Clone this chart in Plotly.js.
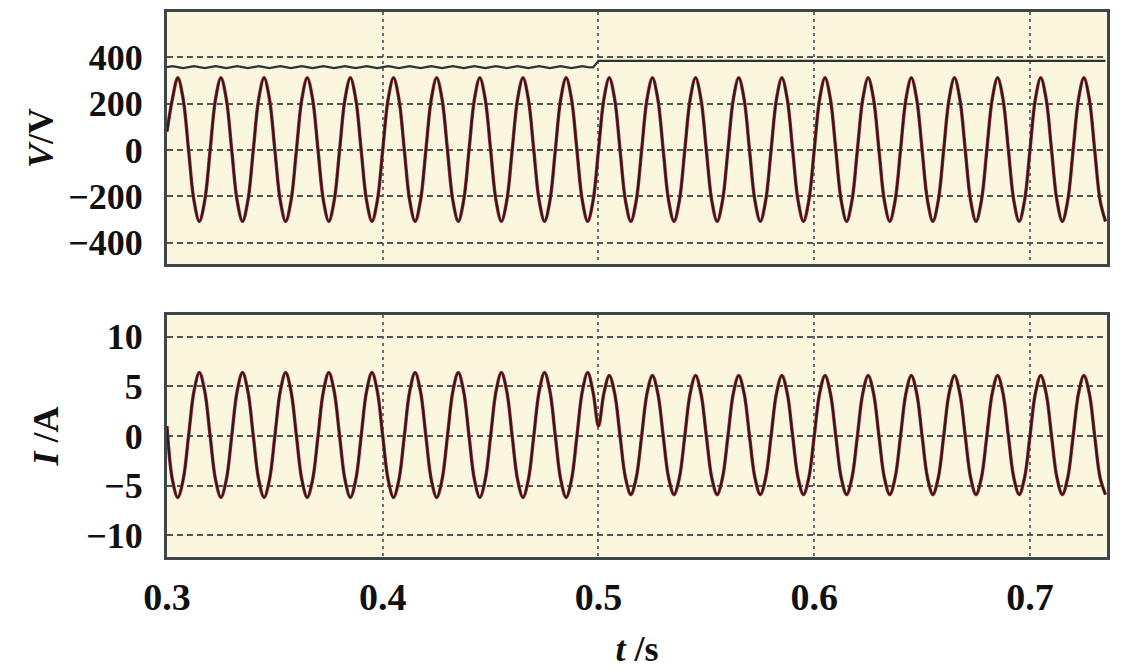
<!DOCTYPE html>
<html>
<head>
<meta charset="utf-8">
<script src="https://cdn.plot.ly/plotly-3.0.1.min.js"></script>
<style>html,body{margin:0;padding:0;background:#fff;}#chart{width:1123px;height:670px;}</style>
</head>
<body>
<div id="chart"></div>
<script>
// Sampling grid of the recorded waveforms (s)
const tStart = 0.3;
const tStep = 0.0025;

// Grid voltage (V), one row per 20 ms cycle
const gridVoltage = [
  80, 220, 312, 220, 0, -218, -308, -218,
  0, 220, 312, 220, 0, -218, -308, -218,
  0, 220, 312, 220, 0, -218, -308, -218,
  0, 220, 312, 220, 0, -218, -308, -218,
  0, 220, 312, 220, 0, -218, -308, -218,
  0, 220, 312, 220, 0, -218, -308, -218,
  0, 220, 312, 220, 0, -218, -308, -218,
  0, 220, 312, 220, 0, -218, -308, -218,
  0, 220, 312, 220, 0, -218, -308, -218,
  0, 220, 312, 220, 0, -218, -308, -218,
  0, 220, 312, 220, 0, -218, -308, -218,
  0, 220, 312, 220, 0, -218, -308, -218,
  0, 220, 312, 220, 0, -218, -308, -218,
  0, 220, 312, 220, 0, -218, -308, -218,
  0, 220, 312, 220, 0, -218, -308, -218,
  0, 220, 312, 220, 0, -218, -308, -218,
  0, 220, 312, 220, 0, -218, -308, -218,
  0, 220, 312, 220, 0, -218, -308, -218,
  0, 220, 312, 220, 0, -218, -308, -218,
  0, 220, 312, 220, 0, -218, -308, -218,
  0, 220, 312, 220, 0, -218, -308, -218,
  0, 220, 312, 220, 0, -218, -308
];

// DC-link voltage (V)
const dcVoltage = [
  358, 362, 358, 354, 358, 362, 358, 354,
  358, 362, 358, 354, 358, 362, 358, 354,
  358, 362, 358, 354, 358, 362, 358, 354,
  358, 362, 358, 354, 358, 362, 358, 354,
  358, 362, 358, 354, 358, 362, 358, 354,
  358, 362, 358, 354, 358, 362, 358, 354,
  358, 362, 358, 354, 358, 362, 358, 354,
  358, 362, 358, 354, 358, 362, 358, 354,
  358, 362, 358, 354, 358, 362, 358, 354,
  358, 362, 358, 354, 358, 362, 358, 357,
  385, 385, 385, 385, 385, 385, 385, 385,
  385, 385, 385, 385, 385, 385, 385, 385,
  385, 385, 385, 385, 385, 385, 385, 385,
  385, 385, 385, 385, 385, 385, 385, 385,
  385, 385, 385, 385, 385, 385, 385, 385,
  385, 385, 385, 385, 385, 385, 385, 385,
  385, 385, 385, 385, 385, 385, 385, 385,
  385, 385, 385, 385, 385, 385, 385, 385,
  385, 385, 385, 385, 385, 385, 385, 385,
  385, 385, 385, 385, 385, 385, 385, 385,
  385, 385, 385, 385, 385, 385, 385, 385,
  385, 385, 385, 385, 385, 385, 385
];

// Grid current (A): anti-phase before 0.5 s, in phase after
const gridCurrent = [
  1.0, -4.4, -6.2, -4.4, 0, 4.5, 6.4, 4.5,
  0, -4.4, -6.2, -4.4, 0, 4.5, 6.4, 4.5,
  0, -4.4, -6.2, -4.4, 0, 4.5, 6.4, 4.5,
  0, -4.4, -6.2, -4.4, 0, 4.5, 6.4, 4.5,
  0, -4.4, -6.2, -4.4, 0, 4.5, 6.4, 4.5,
  0, -4.4, -6.2, -4.4, 0, 4.5, 6.4, 4.5,
  0, -4.4, -6.2, -4.4, 0, 4.5, 6.4, 4.5,
  0, -4.4, -6.2, -4.4, 0, 4.5, 6.4, 4.5,
  0, -4.4, -6.2, -4.4, 0, 4.5, 6.4, 4.5,
  0, -4.4, -6.2, -4.4, 0, 4.5, 6.4, 4.4,
  1.0, 4.3, 6.1, 4.3, 0, -4.2, -5.9, -4.2,
  0, 4.3, 6.1, 4.3, 0, -4.2, -5.9, -4.2,
  0, 4.3, 6.1, 4.3, 0, -4.2, -5.9, -4.2,
  0, 4.3, 6.1, 4.3, 0, -4.2, -5.9, -4.2,
  0, 4.3, 6.1, 4.3, 0, -4.2, -5.9, -4.2,
  0, 4.3, 6.1, 4.3, 0, -4.2, -5.9, -4.2,
  0, 4.3, 6.1, 4.3, 0, -4.2, -5.9, -4.2,
  0, 4.3, 6.1, 4.3, 0, -4.2, -5.9, -4.2,
  0, 4.3, 6.1, 4.3, 0, -4.2, -5.9, -4.2,
  0, 4.3, 6.1, 4.3, 0, -4.2, -5.9, -4.2,
  0, 4.3, 6.1, 4.3, 0, -4.2, -5.9, -4.2,
  0, 4.3, 6.1, 4.3, 0, -4.2, -5.9
];

// Tick values / labels
const timeTicks = [0.3, 0.4, 0.5, 0.6, 0.7];
const timeTickText = ['0.3', '0.4', '0.5', '0.6', '0.7'];
const voltTicks = [-400, -200, 0, 200, 400];
const currTicks = [-10, -5, 0, 5, 10];

const time = gridVoltage.map((_, k) => +(tStart + k * tStep).toFixed(4));

const redLine = {color: '#a52a36', width: 3.4, shape: 'spline', smoothing: 1};
const darkLine = {color: '#2a1a1c', width: 2.0, shape: 'spline', smoothing: 1};

const traces = [
  {x: time, y: dcVoltage, xaxis: 'x', yaxis: 'y', mode: 'lines', line: {color: '#2c3436', width: 2.2}, hoverinfo: 'skip'},
  {x: time, y: gridVoltage, xaxis: 'x', yaxis: 'y', mode: 'lines', line: redLine, hoverinfo: 'skip'},
  {x: time, y: gridVoltage, xaxis: 'x', yaxis: 'y', mode: 'lines', line: darkLine, hoverinfo: 'skip'},
  {x: time, y: gridCurrent, xaxis: 'x2', yaxis: 'y2', mode: 'lines', line: redLine, hoverinfo: 'skip'},
  {x: time, y: gridCurrent, xaxis: 'x2', yaxis: 'y2', mode: 'lines', line: darkLine, hoverinfo: 'skip'}
];

const tickFont = {family: '"Liberation Serif", "Times New Roman", serif', size: 36, color: '#111', weight: 700};
const titleFont = {family: '"Liberation Serif", "Times New Roman", serif', size: 36, color: '#111', weight: 700};

const frame = {showline: true, mirror: true, linecolor: '#3f4648', linewidth: 3, zeroline: false};
const xBase = Object.assign({
  range: [0.3, 0.7357], tickvals: timeTicks, ticktext: timeTickText,
  showgrid: true, gridcolor: '#6e6e6e', gridwidth: 2, griddash: '3px,4px',
  fixedrange: true
}, frame);
const yBase = Object.assign({
  showgrid: true, gridcolor: '#555555', gridwidth: 2, griddash: '6px,4px',
  ticks: 'outside', ticklen: 14, tickcolor: 'rgba(0,0,0,0)', tickfont: tickFont,
  fixedrange: true
}, frame);

const layout = {
  width: 1123, height: 670,
  margin: {l: 167, r: 16, t: 12, b: 113},
  paper_bgcolor: '#ffffff', plot_bgcolor: '#fbf7df',
  showlegend: false,
  xaxis: Object.assign({}, xBase, {anchor: 'y', showticklabels: false, ticks: ''}),
  yaxis: Object.assign({}, yBase, {
    domain: [0.5376, 1], anchor: 'x', range: [-492, 596], tickvals: voltTicks,
    title: {text: '<i>V</i>/V', font: titleFont, standoff: 4}
  }),
  xaxis2: Object.assign({}, xBase, {
    anchor: 'y2', ticks: 'outside', ticklen: 4, tickcolor: 'rgba(0,0,0,0)', tickfont: Object.assign({}, tickFont, {size: 38}),
    title: {text: '<i>t</i> /s', font: titleFont, standoff: 20}
  }),
  yaxis2: Object.assign({}, yBase, {
    domain: [0, 0.444], anchor: 'x2', range: [-12.2, 12.2], tickvals: currTicks,
    title: {text: '<i>I</i> /A', font: titleFont, standoff: 17}
  })
};

Plotly.newPlot('chart', traces, layout, {displayModeBar: false, staticPlot: true});
</script>
</body>
</html>
